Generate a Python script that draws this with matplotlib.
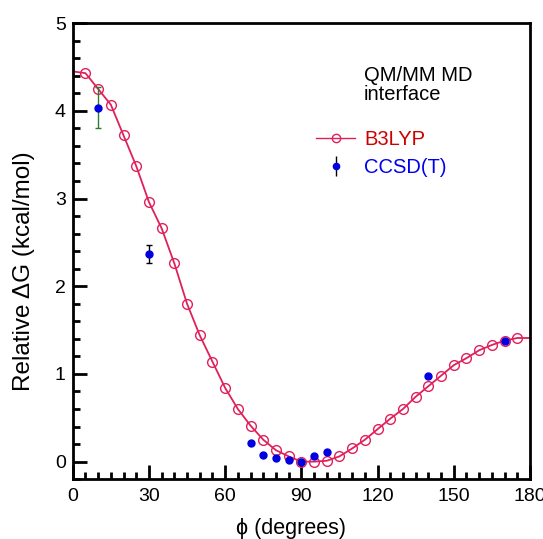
import numpy as np
import matplotlib.pyplot as plt
from matplotlib.ticker import MultipleLocator

plt.rcParams['font.family'] = ['Liberation Sans', 'DejaVu Sans']

# B3LYP free-energy profile (circles every 5 degrees, smooth curve 0-180)
phi_b3lyp = [0, 5, 10, 15, 20, 25, 30, 35, 40, 45, 50, 55, 60, 65, 70, 75, 80, 85, 90,
             95, 100, 105, 110, 115, 120, 125, 130, 135, 140, 145, 150, 155, 160, 165,
             170, 175, 180]
dG_b3lyp = [4.45, 4.43, 4.25, 4.07, 3.72, 3.37, 2.96, 2.66, 2.26, 1.80, 1.44, 1.14, 0.84,
            0.60, 0.41, 0.25, 0.13, 0.06, 0.00, 0.00, 0.01, 0.06, 0.15, 0.25, 0.37, 0.49,
            0.60, 0.74, 0.86, 0.98, 1.10, 1.18, 1.27, 1.33, 1.38, 1.41, 1.41]

# CCSD(T) points
phi_cc = [10, 30, 70, 75, 80, 85, 90, 95, 100, 140, 170]
dG_cc = [4.03, 2.37, 0.21, 0.08, 0.04, 0.02, 0.0, 0.065, 0.11, 0.98, 1.37]
# error bars (lower, upper) for the first two points
err_lo = [0.23, 0.10]
err_hi = [0.24, 0.10]

line_col = '#e0205a'

fig = plt.figure(figsize=(5.43, 5.39), dpi=100)
ax = fig.add_axes([0.134, 0.111, 0.842, 0.846])

ax.plot(phi_b3lyp, dG_b3lyp, '-', color=line_col, lw=1.3)
ax.plot(phi_b3lyp[1:-1], dG_b3lyp[1:-1], 'o', mfc='none', mec=line_col, ms=7, mew=1.0)

ax.errorbar(phi_cc[0], dG_cc[0], yerr=[[err_lo[0]], [err_hi[0]]], fmt='none',
            ecolor='#2e7d32', elinewidth=1.0, capsize=2)
ax.errorbar(phi_cc[1], dG_cc[1], yerr=[[err_lo[1]], [err_hi[1]]], fmt='none',
            ecolor='black', elinewidth=1.0, capsize=2)
ax.plot(phi_cc, dG_cc, 'o', color='#0000e0', ms=5, zorder=5)

# legend handles
h1, = ax.plot([], [], '-o', color=line_col, mfc='none', mec=line_col, ms=6, lw=1.0)
h2 = ax.errorbar([], [], yerr=[], fmt='o', color='#0000e0', ecolor='black',
                 ms=4.5, elinewidth=1.0, capsize=2)
leg = ax.legend([h1, h2], ['B3LYP', 'CCSD(T)'], loc='upper left',
                bbox_to_anchor=(0.532, 0.765), frameon=False, fontsize=14.5,
                borderpad=0, borderaxespad=0, handlelength=1.95,
                handletextpad=0.45, labelspacing=0.45)
leg.get_texts()[0].set_color('#cc0000')
leg.get_texts()[1].set_color('#0000ee')

ax.text(0.636, 0.905, 'QM/MM MD\ninterface', transform=ax.transAxes, fontsize=14.5,
        va='top', ha='left', linespacing=1.0)

ax.set_xlim(0, 180)
ax.set_ylim(-0.2, 5)
ax.xaxis.set_major_locator(MultipleLocator(30))
ax.xaxis.set_minor_locator(MultipleLocator(5))
ax.yaxis.set_major_locator(MultipleLocator(1))
ax.yaxis.set_minor_locator(MultipleLocator(0.2))
ax.tick_params(which='both', direction='in', top=False, right=False, width=2,
               labelsize=14)
ax.tick_params(which='major', length=10)
ax.tick_params(axis='x', pad=6)
ax.tick_params(axis='y', pad=5)
ax.tick_params(which='minor', length=5)
for s in ax.spines.values():
    s.set_linewidth(2)

ax.set_xlabel('ϕ (degrees)', fontsize=15.5, va='top')
ax.xaxis.set_label_coords(0.477, -0.086)
ax.set_ylabel('Relative ΔG (kcal/mol)', fontsize=17.5, va='center')
ax.yaxis.set_label_coords(-0.106, 0.456)

fig.savefig('out.png', dpi=100)
